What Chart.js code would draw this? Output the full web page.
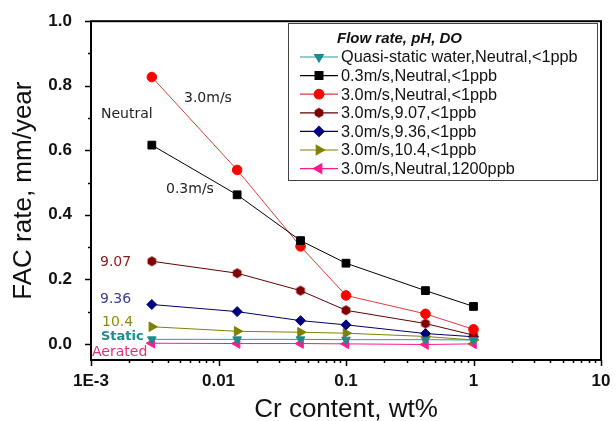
<!DOCTYPE html>
<html>
<head>
<meta charset="utf-8">
<script src="https://cdn.jsdelivr.net/npm/chart.js@4.4.0/dist/chart.umd.min.js"></script>
<style>
  html, body { margin: 0; padding: 0; background: #fff; }
  canvas { display: block; }
</style>
</head>
<body>
<canvas id="myChart" width="616" height="421"></canvas>
<script>
// Cr content (wt%) of the tested steels
const crContent = [0.003, 0.014, 0.044, 0.1, 0.42, 1];

// FAC rate, mm/year, one array per test condition
const quasiStatic = [0.014, 0.014, 0.014, 0.013, 0.013, 0.012];
const neutral03 = [0.616, 0.462, 0.32, 0.25, 0.165, 0.116];
const neutral30 = [0.827, 0.539, 0.302, 0.15, 0.093, 0.045];
const ph907 = [0.256, 0.219, 0.165, 0.104, 0.063, 0.027];
const ph936 = [0.122, 0.100, 0.072, 0.059, 0.032, 0.022];
const ph104 = [0.053, 0.039, 0.036, 0.033, 0.023, 0.012];
const aerated = [0.002, 0.001, 0.001, 0.0, -0.002, 0.0];

const seriesLabels = [
    'Quasi-static water,Neutral,<1ppb',
    '0.3m/s,Neutral,<1ppb',
    '3.0m/s,Neutral,<1ppb',
    '3.0m/s,9.07,<1ppb',
    '3.0m/s,9.36,<1ppb',
    '3.0m/s,10.4,<1ppb',
    '3.0m/s,Neutral,1200ppb'
];
const legendTitle = 'Flow rate, pH, DO';

const xTickValues = [0.001, 0.01, 0.1, 1, 10];
const xTickLabels = ['1E-3', '0.01', '0.1', '1', '10'];
const yTickLabels = ['0.0', '0.2', '0.4', '0.6', '0.8', '1.0'];

// text written next to the curves
const curveNotes = [
    { text: 'Neutral', color: '#222222', bold: false, size: 14, x: 101, y: 114 },
    { text: '3.0m/s', color: '#222222', bold: false, size: 14, x: 184, y: 98 },
    { text: '0.3m/s', color: '#222222', bold: false, size: 14, x: 166, y: 189 },
    { text: '9.07', color: '#8b1a1a', bold: false, size: 14, x: 100, y: 262 },
    { text: '9.36', color: '#3c3c8c', bold: false, size: 14, x: 100, y: 299 },
    { text: '10.4', color: '#8c8c14', bold: false, size: 14, x: 102, y: 322 },
    { text: 'Static', color: '#1e8c8c', bold: true, size: 13, x: 101, y: 337 },
    { text: 'Aerated', color: '#e0307a', bold: false, size: 14, x: 92, y: 352 }
];

function hexagon(r, color) {
    const c = document.createElement('canvas');
    c.width = c.height = 2 * r + 2;
    const g = c.getContext('2d');
    g.beginPath();
    for (let i = 0; i < 6; i++) {
        const a = -Math.PI / 2 + i * Math.PI / 3;
        g.lineTo(r + 1 + r * Math.cos(a), r + 1 + r * Math.sin(a));
    }
    g.closePath();
    g.fillStyle = color;
    g.fill();
    return c;
}

function series(label, values, color, lineColor, style, radius, rotation) {
    return {
        label: label,
        data: values.map((v, i) => ({ x: crContent[i], y: v })),
        borderColor: lineColor,
        backgroundColor: color,
        pointBackgroundColor: color,
        pointBorderColor: color,
        pointBorderWidth: 1,
        pointStyle: style,
        pointRadius: radius,
        pointRotation: rotation,
        borderWidth: 1,
        fill: false,
        tension: 0
    };
}

const datasets = [
    series(seriesLabels[0], quasiStatic, '#1a8c8c', '#2a9a9a', 'triangle', 5, 180),
    series(seriesLabels[1], neutral03, '#000000', '#000000', 'rect', 5.5, 0),
    series(seriesLabels[2], neutral30, '#ff0000', '#e03a3a', 'circle', 4.8, 0),
    series(seriesLabels[3], ph907, '#800000', '#600000', hexagon(5, '#800000'), 5, 0),
    series(seriesLabels[4], ph936, '#000080', '#000060', 'rectRot', 5, 0),
    series(seriesLabels[5], ph104, '#808000', '#808000', 'triangle', 5.5, 90),
    series(seriesLabels[6], aerated, '#ff1a8c', '#ff1a8c', 'triangle', 5.5, -90)
];

const axisFrame = {
    id: 'axisFrame',
    afterDraw(chart) {
        const ctx = chart.ctx;
        const a = chart.chartArea;
        const xs = chart.scales.x;
        const ys = chart.scales.y;
        ctx.save();
        ctx.strokeStyle = '#000';
        ctx.lineWidth = 2;
        ctx.strokeRect(a.left, a.top, a.right - a.left, a.bottom - a.top);
        ctx.lineWidth = 1.5;
        ctx.beginPath();
        for (let i = 0; i <= 10; i++) {
            const py = Math.round(ys.getPixelForValue(i / 10)) + 0.5;
            const len = i % 2 === 0 ? 6 : 3;
            ctx.moveTo(a.left, py);
            ctx.lineTo(a.left - len, py);
        }
        for (let d = 0; d < xTickValues.length; d++) {
            const base = xTickValues[d];
            const kMax = d === xTickValues.length - 1 ? 1 : 9;
            for (let k = 1; k <= kMax; k++) {
                const px = Math.round(xs.getPixelForValue(k * base)) + 0.5;
                const len = k === 1 ? 6 : 3;
                ctx.moveTo(px, a.bottom);
                ctx.lineTo(px, a.bottom + len);
            }
        }
        ctx.stroke();
        ctx.restore();
    }
};

const boxLegend = {
    id: 'boxLegend',
    afterDatasetsDraw(chart) {
        const ctx = chart.ctx;
        const left = 288, top = 23, right = 597, bottom = 180;
        ctx.save();
        ctx.fillStyle = '#fff';
        ctx.fillRect(left, top, right - left, bottom - top);
        ctx.strokeStyle = '#444';
        ctx.lineWidth = 1;
        ctx.strokeRect(left + 0.5, top + 0.5, right - left, bottom - top);
        ctx.fillStyle = '#111';
        ctx.textBaseline = 'middle';
        ctx.textAlign = 'left';
        ctx.font = 'italic bold 15px "Liberation Sans", Arial, sans-serif';
        ctx.fillText(legendTitle, 337, 39);
        ctx.font = '16.3px "Liberation Sans", Arial, sans-serif';
        chart.data.datasets.forEach((ds, i) => {
            const y = 57 + i * 18.6;
            ctx.strokeStyle = ds.borderColor;
            ctx.lineWidth = 1.2;
            ctx.beginPath();
            ctx.moveTo(300, y);
            ctx.lineTo(338, y);
            ctx.stroke();
            ctx.fillStyle = ds.pointBackgroundColor;
            ctx.strokeStyle = ds.pointBorderColor;
            Chart.helpers.drawPoint(ctx, {
                pointStyle: ds.pointStyle,
                rotation: ds.pointRotation,
                radius: ds.pointRadius,
                borderWidth: 1
            }, 319, y);
            ctx.fillStyle = '#111';
            ctx.fillText(ds.label, 341, y + 1);
        });
        ctx.restore();
    }
};

const notes = {
    id: 'notes',
    afterDatasetsDraw(chart) {
        const ctx = chart.ctx;
        ctx.save();
        ctx.textBaseline = 'middle';
        ctx.textAlign = 'left';
        curveNotes.forEach(n => {
            ctx.font = (n.bold ? 'bold ' : '') + n.size + 'px "DejaVu Sans", sans-serif';
            ctx.fillStyle = n.color;
            ctx.fillText(n.text, n.x, n.y);
        });
        ctx.restore();
    }
};

const ctx = document.getElementById('myChart').getContext('2d');
new Chart(ctx, {
    type: 'line',
    data: { datasets: datasets },
    options: {
        responsive: false,
        animation: false,
        layout: { padding: { top: 20, right: 15, left: 0, bottom: 0 } },
        plugins: {
            legend: { display: false },
            tooltip: { enabled: false }
        },
        scales: {
            x: {
                type: 'logarithmic',
                min: 0.001,
                max: 10,
                grid: { display: false },
                border: { display: false },
                afterBuildTicks: scale => {
                    scale.ticks = xTickValues.map(v => ({ value: v }));
                },
                afterFit: scale => { scale.height = 61; },
                ticks: {
                    color: '#111',
                    padding: 3,
                    autoSkip: false,
                    maxRotation: 0,
                    font: { family: '"Liberation Sans", Arial, sans-serif', size: 17, weight: 'bold' },
                    callback: (v, i) => xTickLabels[i]
                },
                title: {
                    display: true,
                    text: 'Cr content, wt%',
                    color: '#111',
                    padding: { top: 0, bottom: -2 },
                    font: { family: '"Liberation Sans", Arial, sans-serif', size: 26, lineHeight: 1 }
                }
            },
            y: {
                min: -0.05,
                max: 1.0,
                grid: { display: false },
                border: { display: false },
                afterFit: scale => { scale.width = 91; },
                ticks: {
                    stepSize: 0.2,
                    includeBounds: false,
                    color: '#111',
                    padding: 11,
                    font: { family: '"Liberation Sans", Arial, sans-serif', size: 17, weight: 'bold' },
                    callback: (v) => yTickLabels[Math.round(v / 0.2)]
                },
                title: {
                    display: true,
                    text: 'FAC rate, mm/year',
                    color: '#111',
                    padding: { top: 11, bottom: 0 },
                    font: { family: '"Liberation Sans", Arial, sans-serif', size: 26, lineHeight: 1 }
                }
            }
        }
    },
    plugins: [axisFrame, boxLegend, notes]
});
</script>
</body>
</html>
